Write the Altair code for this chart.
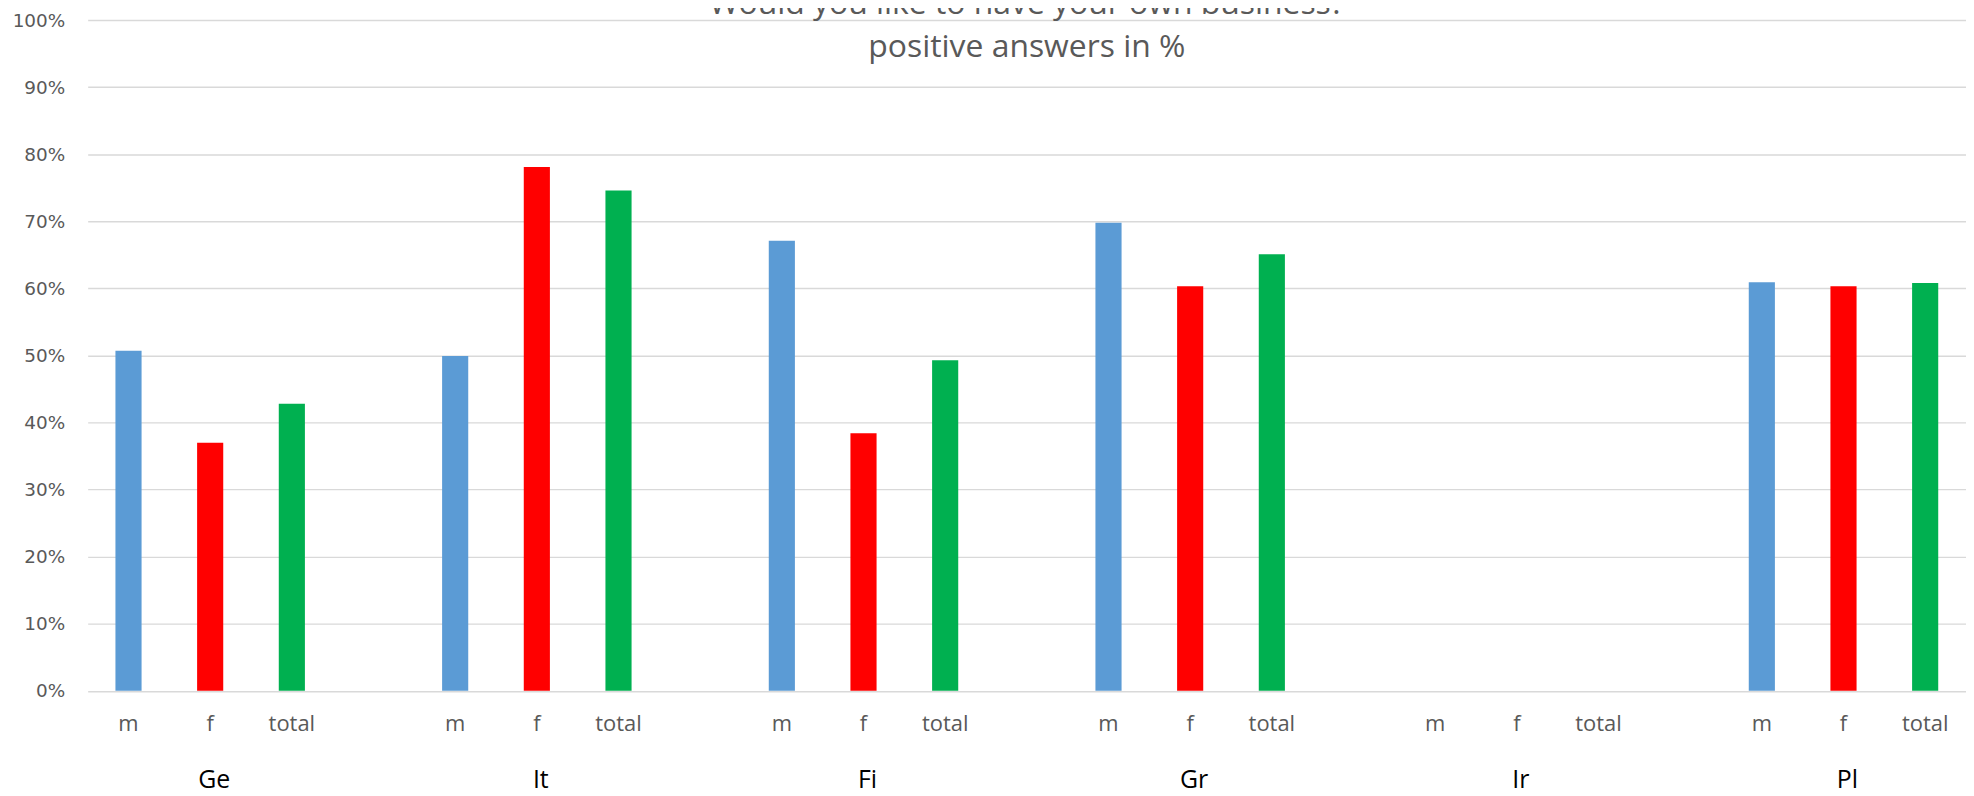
import altair as alt
import pandas as pd

countries = ["Ge", "It", "Fi", "Gr", "Ir", "Pl"]
genders = ["m", "f", "total"]
m_values = [0.507, 0.499, 0.671, 0.698, None, 0.609]
f_values = [0.370, 0.781, 0.384, 0.603, None, 0.603]
total_values = [0.428, 0.746, 0.493, 0.651, None, 0.608]
colors = ["#5B9BD5", "#FF0000", "#00B050"]
title_lines = ["Would you like to have your own business?", "positive answers in %"]
y_ticks = [0.0, 0.1, 0.2, 0.3, 0.4, 0.5, 0.6, 0.7, 0.8, 0.9, 1.0]

series = {"m": m_values, "f": f_values, "total": total_values}
rows = []
for i, c in enumerate(countries):
    for g in genders:
        rows.append({"country": c, "gender": g, "slot": f"{c}|{g}", "value": series[g][i]})
df = pd.DataFrame(rows)

# category slots: three bars per country followed by an empty gap slot
slots = []
for i, c in enumerate(countries):
    slots += [f"{c}|{g}" for g in genders]
    if i < len(countries) - 1:
        slots.append(f"{c}|")

x_scale = alt.Scale(domain=slots, paddingInner=0.68, paddingOuter=0.34)

bars = alt.Chart(df).transform_filter("isValid(datum.value)").mark_bar().encode(
    x=alt.X(
        "slot:N",
        scale=x_scale,
        title=None,
        axis=alt.Axis(
            orient="bottom",
            labelExpr="split(datum.value, '|')[1]",
            labelAngle=0,
            labelFont="Open Sans",
            labelFontSize=22,
            labelColor="#595959",
            labelPadding=23,
            domain=False,
            ticks=False,
            grid=False,
        ),
    ),
    y=alt.Y(
        "value:Q",
        scale=alt.Scale(domain=[0, 1]),
        title=None,
        axis=alt.Axis(
            values=y_ticks,
            format=".0%",
            labelFont="DejaVu Sans",
            labelFontSize=18.5,
            labelColor="#595959",
            labelPadding=23,
            domain=False,
            ticks=False,
            tickSize=0,
            grid=True,
            gridColor="#d9d9d9",
            gridWidth=1.4,
        ),
    ),
    color=alt.Color("gender:N", scale=alt.Scale(domain=genders, range=colors), legend=None),
)

country_axis = alt.Chart(df).mark_point(opacity=0).encode(
    x=alt.X(
        "slot:N",
        scale=x_scale,
        title=None,
        axis=alt.Axis(
            orient="bottom",
            labelExpr="split(datum.value, '|')[1] == 'f' ? split(datum.value, '|')[0] : ''",
            labelAngle=0,
            labelFont="Open Sans",
            labelFontSize=25,
            labelColor="#000000",
            labelPadding=77,
            labelOffset=4,
            domain=False,
            ticks=False,
            grid=False,
        ),
    ),
)

chart = (
    alt.layer(bars, country_axis)
    .resolve_axis(x="independent")
    .properties(
        width=1886,
        height=673.5,
        background="white",
        autosize=alt.AutoSizeParams(type="none"),
        padding={"left": 80, "top": 10.5, "right": 0, "bottom": 103},
        title=alt.TitleParams(
            text=title_lines,
            font="Open Sans",
            fontSize=32,
            fontWeight="normal",
            color="#595959",
            lineHeight=43,
            anchor="middle",
            frame="group",
            baseline="alphabetic",
            offset=-78,
        ),
    )
    .configure_view(strokeWidth=0, stroke="transparent")
)

chart.save("out.html", embed_options={"renderer": "svg", "actions": False})
